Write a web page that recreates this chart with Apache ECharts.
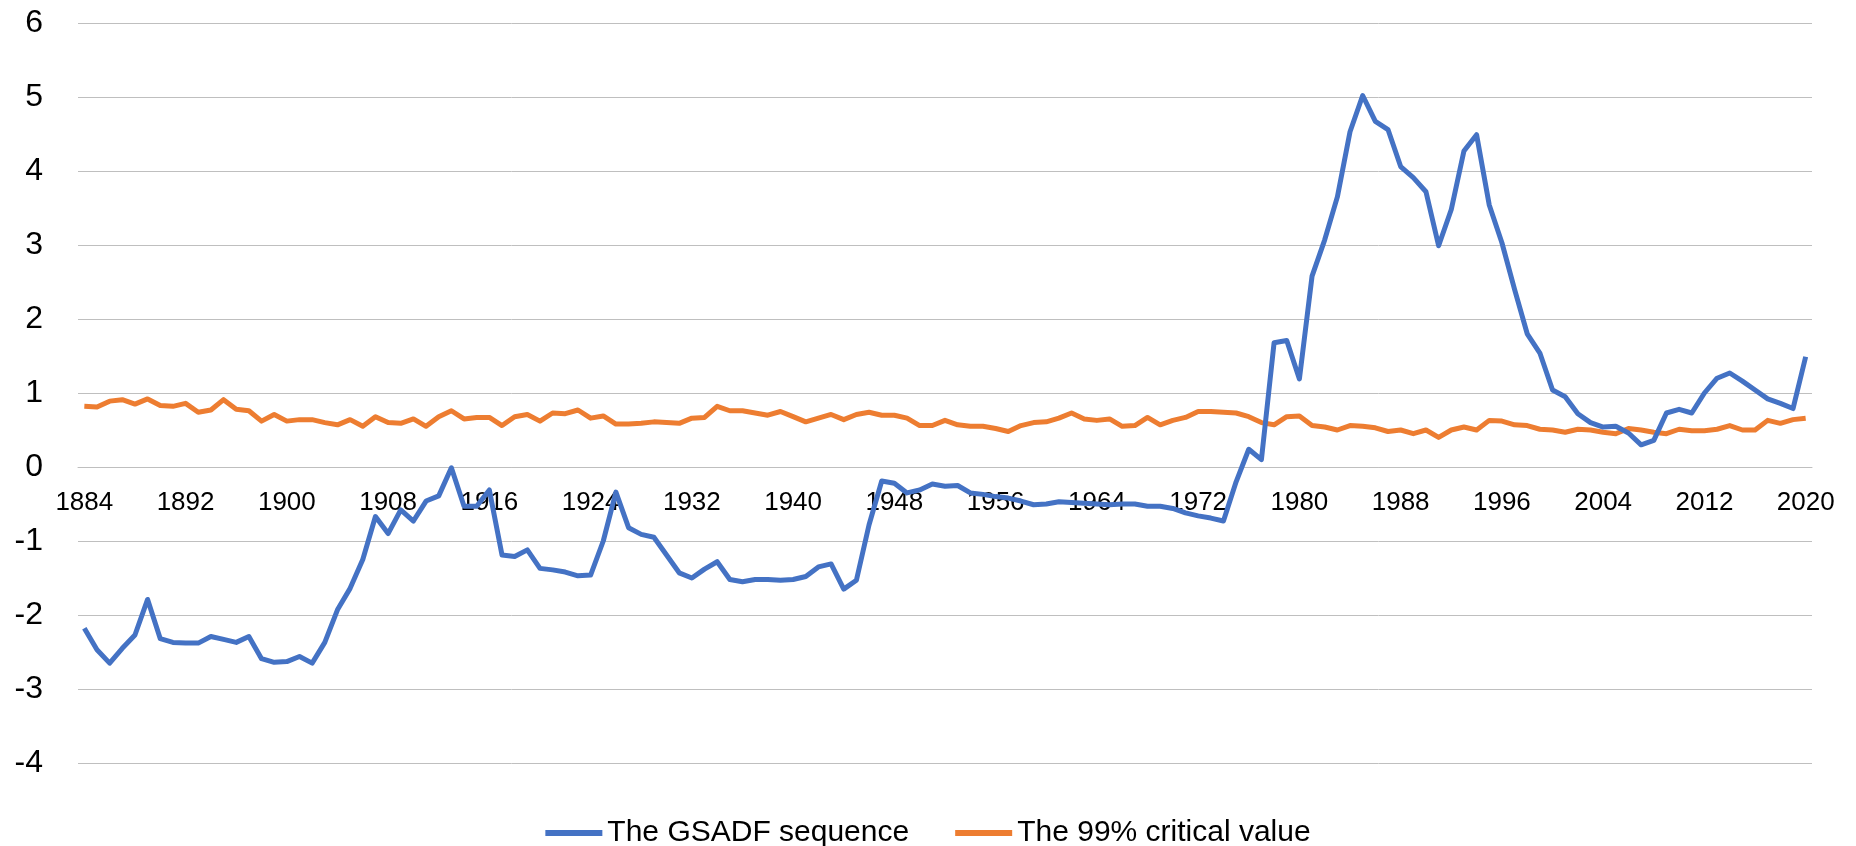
<!DOCTYPE html>
<html>
<head>
<meta charset="utf-8">
<script src="https://cdn.jsdelivr.net/npm/echarts@6/dist/echarts.min.js"></script>
<style>
    html, body { margin: 0; padding: 0; background: #fff; }
    #chart { width: 1856px; height: 846px; }
</style>
</head>
<body>
<div id="chart"></div>
<script>
// years 1884 - 2020
const years = []
for (let y = 1884; y <= 2020; y++) years.push(String(y))

// GSADF statistic
const gsadf = [
    -2.18, -2.47, -2.65, -2.45, -2.27, -1.79, -2.32, -2.37, -2.38, -2.38,
    -2.29, -2.33, -2.37, -2.29, -2.59, -2.64, -2.63, -2.56, -2.65, -2.37,
    -1.93, -1.64, -1.25, -0.67, -0.90, -0.58, -0.73, -0.46, -0.39, -0.01,
    -0.53, -0.53, -0.31, -1.19, -1.21, -1.12, -1.37, -1.39, -1.42, -1.47,
    -1.46, -1.00, -0.34, -0.82, -0.91, -0.95, -1.19, -1.43, -1.50, -1.38,
    -1.28, -1.52, -1.55, -1.52, -1.52, -1.53, -1.52, -1.48, -1.35, -1.31,
    -1.65, -1.53, -0.78, -0.19, -0.22, -0.35, -0.31, -0.23, -0.26, -0.25,
    -0.35, -0.37, -0.40, -0.42, -0.46, -0.51, -0.50, -0.47, -0.48, -0.49,
    -0.50, -0.51, -0.50, -0.50, -0.53, -0.53, -0.56, -0.62, -0.66, -0.69,
    -0.73, -0.20, 0.24, 0.10, 1.68, 1.71, 1.19, 2.58, 3.07, 3.65,
    4.53, 5.02, 4.67, 4.56, 4.06, 3.91, 3.72, 2.99, 3.48, 4.27,
    4.49, 3.54, 3.03, 2.40, 1.80, 1.54, 1.04, 0.95, 0.72, 0.60,
    0.54, 0.55, 0.46, 0.30, 0.36, 0.73, 0.78, 0.73, 1.00, 1.20,
    1.27, 1.16, 1.04, 0.92, 0.86, 0.79, 1.49
]

// 99% critical value
const critical = [
    0.82, 0.81, 0.89, 0.91, 0.85, 0.92, 0.83, 0.82, 0.86, 0.74,
    0.77, 0.91, 0.78, 0.76, 0.62, 0.71, 0.62, 0.64, 0.64, 0.60,
    0.57, 0.64, 0.55, 0.68, 0.60, 0.59, 0.65, 0.55, 0.68, 0.76,
    0.65, 0.67, 0.67, 0.56, 0.68, 0.71, 0.62, 0.73, 0.72, 0.77,
    0.66, 0.69, 0.58, 0.58, 0.59, 0.61, 0.60, 0.59, 0.66, 0.67,
    0.82, 0.76, 0.76, 0.73, 0.70, 0.75, 0.68, 0.61, 0.66, 0.71,
    0.64, 0.71, 0.74, 0.70, 0.70, 0.66, 0.56, 0.56, 0.63, 0.57,
    0.55, 0.55, 0.52, 0.48, 0.56, 0.60, 0.61, 0.66, 0.73, 0.65,
    0.63, 0.65, 0.55, 0.56, 0.67, 0.57, 0.63, 0.67, 0.75, 0.75,
    0.74, 0.73, 0.68, 0.60, 0.57, 0.68, 0.69, 0.56, 0.54, 0.50,
    0.56, 0.55, 0.53, 0.48, 0.50, 0.45, 0.50, 0.40, 0.50, 0.54,
    0.50, 0.63, 0.62, 0.57, 0.56, 0.51, 0.50, 0.47, 0.51, 0.50,
    0.47, 0.45, 0.52, 0.50, 0.47, 0.45, 0.51, 0.49, 0.49, 0.51,
    0.56, 0.50, 0.50, 0.63, 0.59, 0.64, 0.66
]

const seriesNames = ['The GSADF sequence', 'The 99% critical value']
const colors = ['#4472C4', '#ED7D31']

const yMin = -4
const yMax = 6
const gridTop = 23
const gridBottom = 83
const plotHeight = 846 - gridTop - gridBottom
// x axis sits on the zero line, as in the original
const zeroOffset = -plotHeight * (0 - yMin) / (yMax - yMin)

const chart = echarts.init(document.getElementById('chart'))
const font = '"Liberation Sans", Arial, sans-serif'

chart.setOption({
    animation: false,
    color: colors,
    grid: {
        left: 78,
        right: 44,
        top: gridTop,
        bottom: gridBottom
    },
    legend: {
        data: seriesNames,
        left: 'center',
        top: 813,
        icon: 'rect',
        itemWidth: 57,
        itemHeight: 6,
        itemGap: 46,
        textStyle: { fontFamily: font, fontSize: 30, color: '#000' }
    },
    xAxis: {
        type: 'category',
        data: years,
        boundaryGap: true,
        position: 'bottom',
        offset: zeroOffset,
        axisLine: { onZero: false, lineStyle: { color: '#bfbfbf', width: 1 } },
        axisTick: { show: false },
        axisLabel: {
            interval: 7,
            margin: 23,
            fontFamily: font,
            fontSize: 26,
            color: '#000'
        },
        splitLine: { show: false }
    },
    yAxis: {
        type: 'value',
        min: yMin,
        max: yMax,
        interval: 1,
        axisLine: { show: false },
        axisTick: { show: false },
        axisLabel: { margin: 35, fontFamily: font, fontSize: 32, color: '#000' },
        splitLine: { lineStyle: { color: '#bfbfbf', width: 1 } }
    },
    series: [
        {
            name: seriesNames[0],
            type: 'line',
            data: gsadf,
            symbol: 'none',
            lineStyle: { width: 5, join: 'round' },
            z: 3
        },
        {
            name: seriesNames[1],
            type: 'line',
            data: critical,
            symbol: 'none',
            lineStyle: { width: 5, join: 'round' },
            z: 2
        }
    ]
})
</script>
</body>
</html>
